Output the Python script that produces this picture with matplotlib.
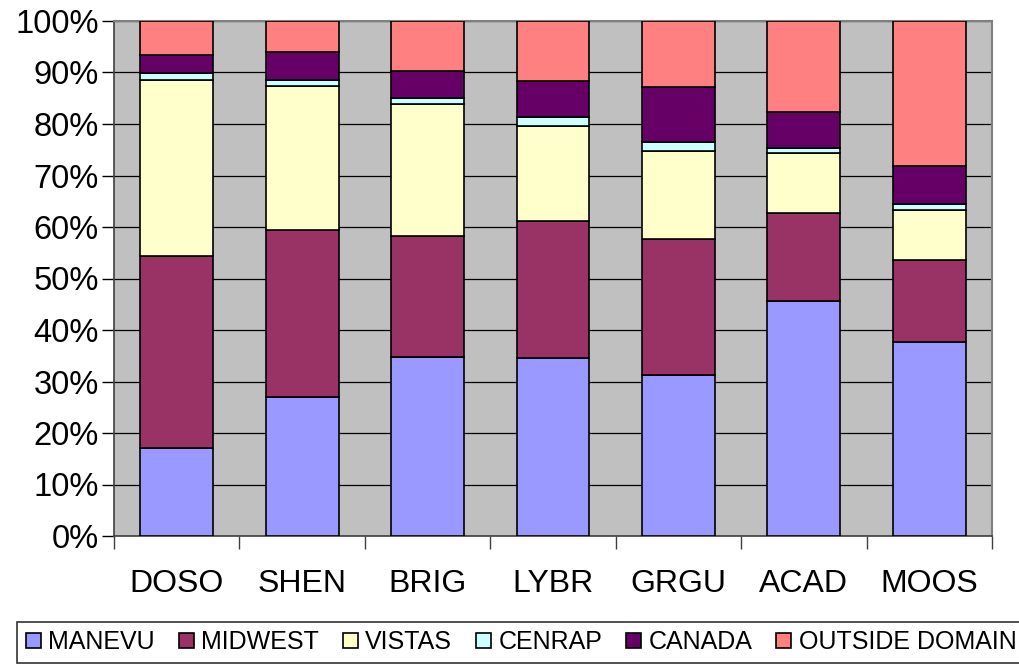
import matplotlib.pyplot as plt
import numpy as np
from matplotlib.ticker import FuncFormatter, FixedLocator

plt.rcParams['font.family'] = ['Liberation Sans', 'DejaVu Sans']

sites = ["DOSO", "SHEN", "BRIG", "LYBR", "GRGU", "ACAD", "MOOS"]
regions = ["MANEVU", "MIDWEST", "VISTAS", "CENRAP", "CANADA", "OUTSIDE DOMAIN"]
colors = ["#9999FF", "#993366", "#FFFFCC", "#CCFFFF", "#660066", "#FF8080"]

# share of each region (%)
manevu = [17.1, 26.9, 34.8, 34.5, 31.3, 45.6, 37.7]
midwest = [37.3, 32.6, 23.5, 26.7, 26.4, 17.1, 15.8]
vistas = [34.1, 27.9, 25.6, 18.5, 17.0, 11.6, 9.8]
cenrap = [1.4, 1.1, 1.1, 1.7, 1.8, 1.0, 1.2]
canada = [3.5, 5.5, 5.2, 7.0, 10.6, 7.0, 7.4]
outside = [6.6, 6.0, 9.8, 11.6, 12.9, 17.7, 28.1]

series = [manevu, midwest, vistas, cenrap, canada, outside]

fig = plt.figure(figsize=(10.2, 6.65), dpi=100)
ax = fig.add_axes([114 / 1020, 129 / 665, 878 / 1020, 515 / 665])
ax.set_facecolor("#C0C0C0")

x = np.arange(len(sites))
data = np.array(series, dtype=float)
data = data / data.sum(axis=0) * 100
bottom = np.zeros(len(sites))
for vals, name, col in zip(data, regions, colors):
    ax.bar(x, vals, 0.58, bottom=bottom, color=col, edgecolor="black",
           linewidth=1.2, label=name, zorder=3)
    bottom += vals

ax.set_xlim(-0.5, len(sites) - 0.5)
ax.set_ylim(0, 100)
ax.set_yticks(np.arange(0, 101, 10))
ax.yaxis.set_major_formatter(FuncFormatter(lambda v, p: f"{v:.0f}%"))
ax.yaxis.grid(True, color="black", linewidth=0.9, zorder=1)
ax.tick_params(axis="y", labelsize=23.5, length=9, width=1, direction="out", pad=2)

ax.set_xticks(x)
ax.set_xticklabels(sites)
ax.tick_params(axis="x", which="major", length=0, labelsize=23, pad=24)
ax.xaxis.set_minor_locator(FixedLocator(np.arange(-0.5, len(sites), 1)))
ax.tick_params(axis="x", which="minor", length=9, width=1, color="#404040")

for s in ["top", "right"]:
    ax.spines[s].set_color("#808080")
    ax.spines[s].set_linewidth(1.5)
for s in ["left", "bottom"]:
    ax.spines[s].set_color("#404040")
    ax.spines[s].set_linewidth(1.2)

handles, labels = ax.get_legend_handles_labels()
leg = fig.legend(handles, labels, loc="lower left", ncol=6,
                 bbox_to_anchor=(17 / 1020, 2 / 665),
                 prop={"family": "Liberation Sans", "size": 18},
                 frameon=True, fancybox=False, edgecolor="black",
                 handlelength=0.6, handleheight=0.6, handletextpad=0.3,
                 columnspacing=0.95, borderpad=0.35, borderaxespad=0)
leg.get_frame().set_linewidth(1.2)

fig.savefig("out.png", dpi=100)
